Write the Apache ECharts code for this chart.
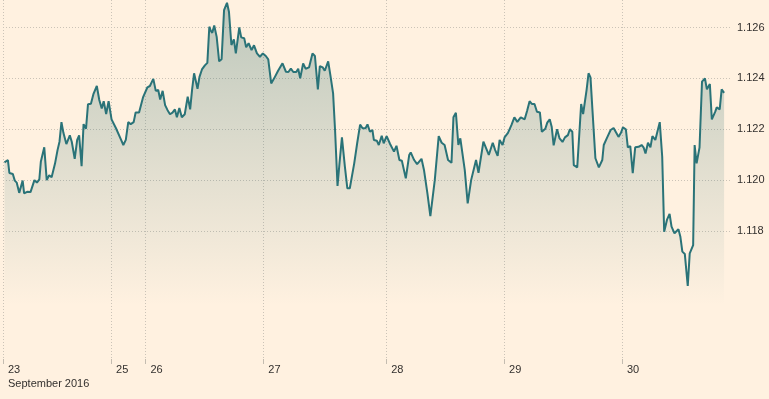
<!DOCTYPE html>
<html>
<head>
<meta charset="utf-8">
<script src="https://cdn.jsdelivr.net/npm/echarts@6/dist/echarts.min.js"></script>
<style>
  html, body { margin: 0; padding: 0; background: #fff1e0; }
  #chart { width: 769px; height: 399px; }
</style>
</head>
<body>
<div id="chart"></div>
<script>
// trading hours since Fri 23 Sep 00:00 (weekend left out)
const hours = [
  0.3, 1.0, 1.3, 2.0, 2.4, 2.8, 3.3, 4.0, 4.3, 4.9, 5.6, 6.0, 6.4, 6.9, 7.4, 7.7, 8.4, 8.9, 9.4, 9.9,
  10.6, 11.1, 11.5, 11.9, 12.3, 12.9, 13.6, 14.0, 14.6, 15.1, 15.5, 16.0, 16.4, 16.9, 17.3, 17.9, 18.4, 19.1, 19.6, 20.1,
  20.5, 21.0, 21.5, 22.1, 23.0, 24.0, 24.5, 25.0,
  25.5, 26.0, 26.6, 27.0, 27.7, 28.1, 28.5, 28.9, 29.4, 29.9, 30.6, 31.1, 31.6, 32.0, 32.5, 33.0, 33.5, 34.0, 34.5, 35.0,
  35.4, 35.9, 36.4, 37.0, 37.6, 38.1, 38.5, 38.9, 39.6, 40.0, 40.5, 41.1, 41.6, 42.0, 42.3, 42.6, 43.0, 43.5, 44.0, 44.5,
  45.0, 45.6, 46.0, 46.5, 47.0, 47.4, 48.1, 48.5, 49.1,
  49.5, 50.0, 50.6, 51.1, 51.7, 52.3, 52.9, 53.5, 54.0, 54.6, 55.2, 56.0, 56.9, 57.6, 58.1, 58.6, 59.1, 59.7, 60.1, 60.5,
  61.1, 61.6, 62.3, 63.0, 63.5, 64.1, 64.5, 65.1, 65.5, 66.2, 66.7, 67.2, 67.6, 68.1, 68.5, 69.0, 69.6, 70.1, 70.6, 71.5,
  72.1, 72.7, 73.2, 73.8,
  74.2, 74.7, 75.2, 75.5, 76.1, 76.5, 77.1, 77.5, 78.1, 78.8, 79.6, 80.1, 80.7, 81.2, 82.0, 82.7, 83.0, 83.7, 84.3, 84.7,
  85.2, 85.7, 86.4, 87.0, 87.9, 88.7, 89.3, 89.9, 90.6, 91.3, 91.7, 92.2, 92.7, 93.1, 94.0, 94.6, 95.3, 96.3, 96.8, 97.8,
  98.2,
  98.9, 99.7, 100.2, 100.7, 101.1, 101.7, 102.1, 102.8, 103.5, 104.1, 104.7, 105.4, 106.2, 106.7, 107.2, 107.7, 108.2, 108.7, 109.3, 109.7,
  110.4, 110.8, 111.3, 111.7, 112.1, 112.8, 113.3, 113.9, 114.4, 115.0, 115.4, 115.9, 116.2, 116.9, 117.7, 118.1, 118.8, 119.2, 119.6, 120.0,
  120.6, 121.3, 122.0,
  122.3, 123.0, 123.7, 124.3, 124.9, 125.3, 125.8, 126.2, 126.8, 127.2, 127.7, 128.2, 128.7, 129.4, 130.0, 130.4, 130.8, 131.3, 131.8, 132.2,
  132.8, 133.2, 133.7, 134.2, 134.6, 135.2, 135.7, 136.1, 136.7, 137.1, 137.5, 137.9, 138.3, 138.8, 139.4, 139.8, 140.5, 140.8, 141.2, 141.8,
  142.3, 142.9, 143.3, 143.9, 144.3, 145.0, 145.3, 145.9, 146.3, 146.8
];

const eurusd = [
  1.12070, 1.12079, 1.12028, 1.12024, 1.11998, 1.11990, 1.11950, 1.11998, 1.11948, 1.11954, 1.11953, 1.11946, 1.12000, 1.11990, 1.12003, 1.12072, 1.12129, 1.12000, 1.12019, 1.12011,
  1.12066, 1.12118, 1.12151, 1.12228, 1.12186, 1.12142, 1.12176, 1.12151, 1.12084, 1.12158, 1.12176, 1.12055, 1.12220, 1.12202, 1.12298, 1.12300, 1.12338, 1.12370, 1.12315, 1.12282,
  1.12310, 1.12260, 1.12310, 1.12239, 1.12204, 1.12160, 1.12138, 1.12158,
  1.12228, 1.12220, 1.12228, 1.12266, 1.12266, 1.12265, 1.12325, 1.12330, 1.12365, 1.12370, 1.12398, 1.12351, 1.12354, 1.12317, 1.12351, 1.12295, 1.12275, 1.12259, 1.12265, 1.12278,
  1.12247, 1.12284, 1.12247, 1.12259, 1.12328, 1.12278, 1.12357, 1.12420, 1.12359, 1.12406, 1.12435, 1.12451, 1.12461, 1.12603, 1.12587, 1.12579, 1.12608, 1.12563, 1.12467, 1.12475,
  1.12668, 1.12697, 1.12662, 1.12531, 1.12553, 1.12498, 1.12600, 1.12561, 1.12558,
  1.12522, 1.12538, 1.12511, 1.12530, 1.12498, 1.12485, 1.12498, 1.12488, 1.12475, 1.12380, 1.12400, 1.12430, 1.12459, 1.12426, 1.12425, 1.12438, 1.12425, 1.12425, 1.12438, 1.12400,
  1.12459, 1.12438, 1.12443, 1.12498, 1.12488, 1.12357, 1.12448, 1.12443, 1.12430, 1.12467, 1.12406, 1.12341, 1.12197, 1.11977, 1.12066, 1.12168, 1.12053, 1.11968, 1.11968, 1.12066,
  1.12145, 1.12218, 1.12204, 1.12204,
  1.12219, 1.12190, 1.12197, 1.12158, 1.12155, 1.12138, 1.12174, 1.12145, 1.12173, 1.12142, 1.12112, 1.12135, 1.12079, 1.12076, 1.12007, 1.12099, 1.12109, 1.12079, 1.12063, 1.12059,
  1.12084, 1.12040, 1.11948, 1.11859, 1.12000, 1.12173, 1.12147, 1.12138, 1.12079, 1.12068, 1.12247, 1.12265, 1.12138, 1.12164, 1.12040, 1.11909, 1.12000, 1.12079, 1.12029, 1.12151,
  1.12147,
  1.12099, 1.12147, 1.12118, 1.12095, 1.12158, 1.12138, 1.12168, 1.12186, 1.12216, 1.12247, 1.12229, 1.12247, 1.12239, 1.12273, 1.12310, 1.12299, 1.12299, 1.12269, 1.12266, 1.12190,
  1.12202, 1.12226, 1.12239, 1.12210, 1.12137, 1.12200, 1.12164, 1.12150, 1.12168, 1.12177, 1.12200, 1.12190, 1.12059, 1.12050, 1.12299, 1.12260, 1.12354, 1.12420, 1.12404, 1.12275,
  1.12086, 1.12050, 1.12079,
  1.12138, 1.12168, 1.12197, 1.12205, 1.12184, 1.12170, 1.12186, 1.12207, 1.12200, 1.12129, 1.12134, 1.12027, 1.12129, 1.12131, 1.12138, 1.12129, 1.12105, 1.12147, 1.12129, 1.12173,
  1.12158, 1.12158, 1.12228, 1.12092, 1.11797, 1.11846, 1.11867, 1.11817, 1.11791, 1.11797, 1.11807, 1.11777, 1.11719, 1.11710, 1.11584, 1.11712, 1.11745, 1.12138, 1.12066, 1.12129,
  1.12387, 1.12400, 1.12357, 1.12378, 1.12239, 1.12269, 1.12286, 1.12278, 1.12357, 1.12343
];

// day boundaries on the hours scale and their labels
const dayTicks = [0, 22, 29, 53, 78, 102, 126];
const dayLabels = ['23', '25', '26', '27', '28', '29', '30'];
const monthLabel = 'September 2016';

const priceTicks = [1.118, 1.120, 1.122, 1.124, 1.126];

const chart = echarts.init(document.getElementById('chart'));

const gridLine = { color: '#cbc3b7', width: 1, type: [1, 2] };

chart.setOption({
  backgroundColor: '#fff1e0',
  animation: false,
  grid: { left: 2, right: 39, top: 0, bottom: 40 },
  xAxis: {
    type: 'value',
    min: 0,
    max: 148,
    axisLine: { show: false },
    axisTick: { show: true, length: 5, customValues: dayTicks, lineStyle: { color: '#c4bcb0' } },
    axisLabel: {
      customValues: dayTicks,
      align: 'left',
      verticalAlign: 'top',
      margin: 4,
      padding: [0, 0, 0, 5],
      color: '#33302e',
      fontFamily: 'Liberation Sans, Arial, sans-serif',
      fontSize: 11,
      lineHeight: 14,
      formatter: function (v) {
        const i = dayTicks.indexOf(v);
        if (i < 0) return '';
        return i === 0 ? dayLabels[i] + '\n' + monthLabel : dayLabels[i];
      }
    },
    splitLine: { show: true, lineStyle: gridLine }
  },
  yAxis: {
    type: 'value',
    position: 'right',
    min: 1.11297,
    max: 1.12708,
    axisLine: { show: false },
    axisTick: { show: false, customValues: priceTicks },
    axisLabel: {
      customValues: priceTicks,
      margin: 7,
      color: '#33302e',
      fontFamily: 'Liberation Sans, Arial, sans-serif',
      fontSize: 11,
      formatter: function (v) { return v.toFixed(3); }
    },
    splitLine: { show: true, lineStyle: gridLine }
  },
  series: [{
    type: 'line',
    data: hours.map(function (h, i) { return [h, eurusd[i]]; }),
    showSymbol: false,
    lineStyle: { color: '#2a7378', width: 2 },
    areaStyle: {
      color: new echarts.graphic.LinearGradient(0, 0, 0, 1, [
        { offset: 0, color: 'rgba(46,110,110,0.45)' },
        { offset: 0.85, color: 'rgba(46,110,110,0)' },
        { offset: 1, color: 'rgba(46,110,110,0)' }
      ])
    }
  }]
});
</script>
</body>
</html>
